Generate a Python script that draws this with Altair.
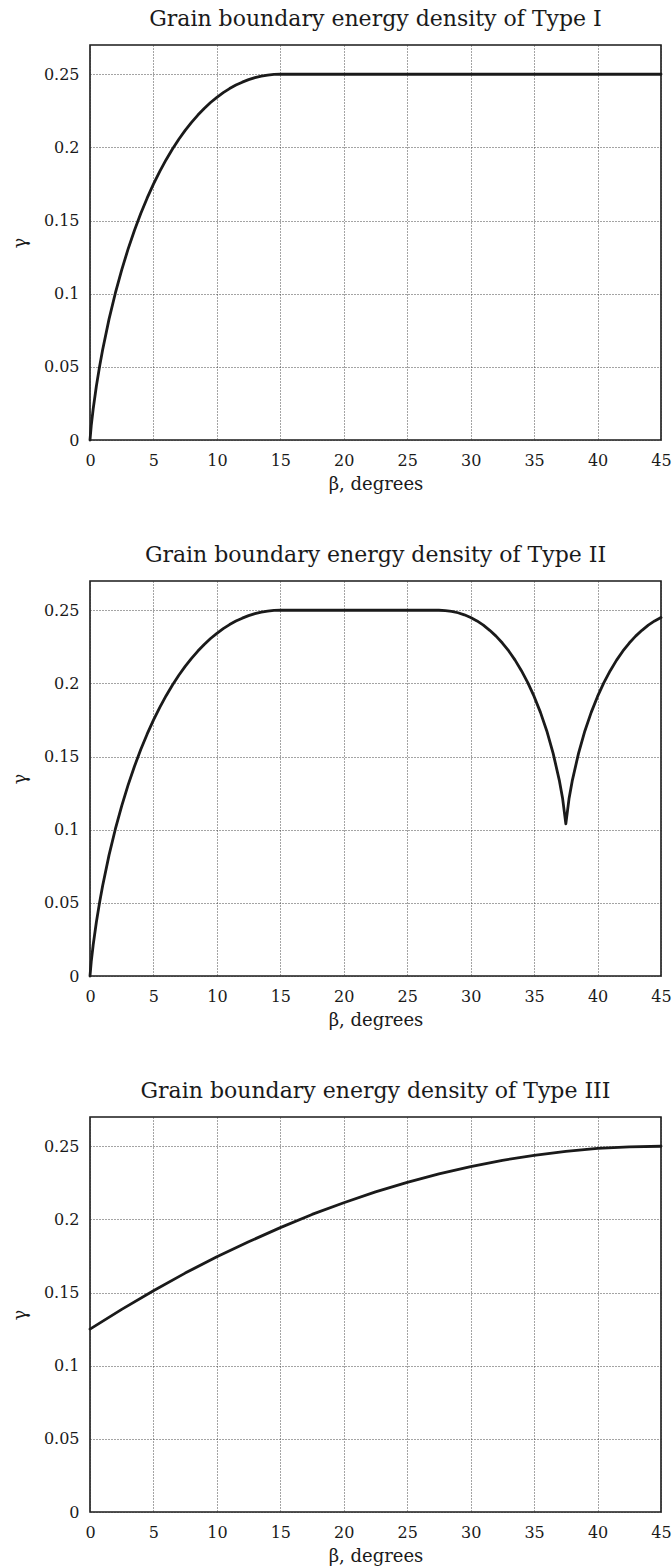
import altair as alt
import pandas as pd

# Type I: rises from 0 to 0.25 at 15 deg, then flat
beta_1 = [0, 0.1, 0.25, 0.5, 0.75, 1, 1.5, 2, 2.5, 3, 3.5, 4, 4.5, 5, 5.5, 6, 6.5, 7, 7.5,
          8, 8.5, 9, 9.5, 10, 10.5, 11, 11.5, 12, 12.5, 13, 13.5, 14, 14.5, 15, 45]
gamma_1 = [0, 0.0100, 0.0212, 0.0367, 0.0500, 0.0618, 0.0826, 0.1005, 0.1163, 0.1305,
           0.1432, 0.1548, 0.1653, 0.1749, 0.1836, 0.1916, 0.1989, 0.2056, 0.2116,
           0.2171, 0.2221, 0.2266, 0.2307, 0.2342, 0.2374, 0.2402, 0.2426, 0.2446,
           0.2463, 0.2477, 0.2487, 0.2494, 0.2499, 0.25, 0.25]

# Type II: same rise, plateau, then a cusp near 37.5 deg
beta_2 = [0, 0.1, 0.25, 0.5, 0.75, 1, 1.5, 2, 2.5, 3, 3.5, 4, 4.5, 5, 5.5, 6, 6.5, 7, 7.5,
          8, 8.5, 9, 9.5, 10, 10.5, 11, 11.5, 12, 12.5, 13, 13.5, 14, 14.5, 15,
          27.5, 28, 28.5, 29, 29.5, 30, 30.5, 31, 31.5, 32, 32.5, 33, 33.5, 34, 34.5,
          35, 35.5, 36, 36.5, 37, 37.25, 37.5, 37.75, 38, 38.5, 39, 39.5, 40, 40.5,
          41, 41.5, 42, 42.5, 43, 43.5, 44, 44.5, 45]
gamma_2 = [0, 0.0100, 0.0212, 0.0367, 0.0500, 0.0618, 0.0826, 0.1005, 0.1163, 0.1305,
           0.1432, 0.1548, 0.1653, 0.1749, 0.1836, 0.1916, 0.1989, 0.2056, 0.2116,
           0.2171, 0.2221, 0.2266, 0.2307, 0.2342, 0.2374, 0.2402, 0.2426, 0.2446,
           0.2463, 0.2477, 0.2487, 0.2494, 0.2499, 0.25,
           0.25, 0.2498, 0.2493, 0.2483, 0.2469, 0.2450, 0.2427, 0.2398, 0.2363,
           0.2323, 0.2276, 0.2222, 0.2159, 0.2087, 0.2005, 0.1911, 0.1802, 0.1675,
           0.1522, 0.1332, 0.1211, 0.104, 0.1211, 0.1332, 0.1522, 0.1675, 0.1802,
           0.1911, 0.2005, 0.2087, 0.2159, 0.2222, 0.2276, 0.2323, 0.2363, 0.2398,
           0.2427, 0.2450]

# Type III: smooth rise from 0.125 to 0.25
beta_3 = [0, 2.5, 5, 7.5, 10, 12.5, 15, 17.5, 20, 22.5, 25, 27.5, 30, 32.5, 35, 37.5,
          40, 42.5, 45]
gamma_3 = [0.125, 0.1385, 0.1512, 0.1633, 0.1744, 0.1847, 0.1944, 0.2034, 0.2114,
           0.2188, 0.2253, 0.2311, 0.2361, 0.2404, 0.2438, 0.2465, 0.2485, 0.2496, 0.25]

titles = ["Grain boundary energy density of Type I",
          "Grain boundary energy density of Type II",
          "Grain boundary energy density of Type III"]
x_ticks = [0, 5, 10, 15, 20, 25, 30, 35, 40, 45]
y_ticks = [0, 0.05, 0.1, 0.15, 0.2, 0.25]

FONT = "DejaVu Serif"


def panel(betas, gammas, title):
    df = pd.DataFrame({"beta": betas, "gamma": gammas})
    return alt.Chart(df).mark_line(
        color="#1a1a1a", strokeWidth=2.8, strokeJoin="round", strokeCap="round"
    ).encode(
        x=alt.X("beta:Q",
                scale=alt.Scale(domain=[0, 45], nice=False, zero=False),
                axis=alt.Axis(values=x_ticks, title="β, degrees", format="d",
                              labelFlush=False, labelPadding=12, titlePadding=7)),
        y=alt.Y("gamma:Q",
                scale=alt.Scale(domain=[0, 0.27], nice=False),
                axis=alt.Axis(values=y_ticks, title="γ", format="~g",
                              labelFlush=False, labelPadding=11, titlePadding=14)),
    ).properties(
        width=571, height=395,
        title=alt.TitleParams(title, font=FONT, fontSize=22, fontWeight="normal",
                              color="#1a1a1a", offset=14),
    )


chart = alt.vconcat(
    panel(beta_1, gamma_1, titles[0]),
    panel(beta_2, gamma_2, titles[1]),
    panel(beta_3, gamma_3, titles[2]),
    spacing=49,
).properties(
    padding={"left": 10, "right": 0, "top": 7, "bottom": 0}
).configure_view(
    stroke="#1a1a1a", strokeWidth=1.6
).configure_axis(
    grid=True, gridColor="#333333", gridDash=[1, 2], gridWidth=0.9, gridOpacity=1,
    ticks=False, domain=False,
    labelFont=FONT, labelFontSize=16, labelColor="#1a1a1a",
    titleFont=FONT, titleFontSize=18, titleFontWeight="normal", titleColor="#1a1a1a",
).configure_title(anchor="middle")

chart.save("out.html", embed_options={"renderer": "svg", "actions": False})
